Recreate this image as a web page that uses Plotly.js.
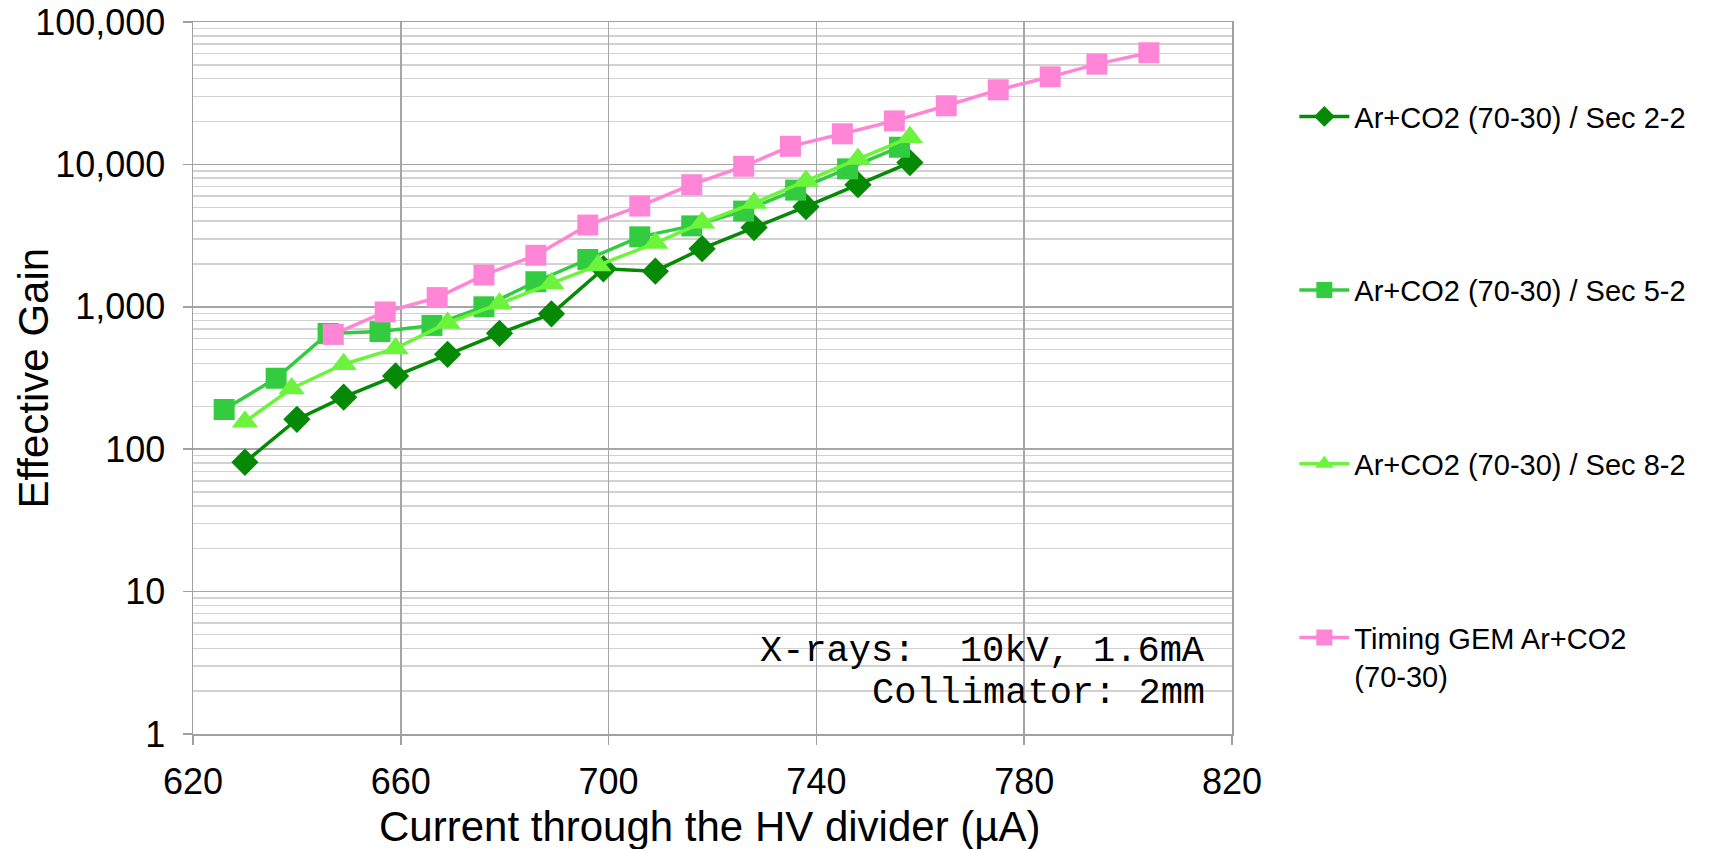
<!DOCTYPE html>
<html>
<head>
<meta charset="utf-8">
<script src="https://cdn.plot.ly/plotly-3.0.1.min.js"></script>
<style>
html,body{margin:0;padding:0;background:#fff;}
#chart{width:1713px;height:849px;}
</style>
</head>
<body>
<div id="chart"></div>
<script>
// Series: Ar+CO2 (70-30) / Sec 2-2
const sec22X = [630, 640, 649, 659, 669, 679, 689, 699, 709, 718, 728, 738, 748, 758];
const sec22Y = [81, 162, 232, 327, 464, 651, 892, 1850, 1780, 2560, 3600, 5050, 7200, 10300];
// Series: Ar+CO2 (70-30) / Sec 5-2
const sec52X = [626, 636, 646, 656, 666, 676, 686, 696, 706, 716, 726, 736, 746, 756];
const sec52Y = [190, 315, 650, 670, 740, 1000, 1500, 2150, 3100, 3700, 4700, 6600, 9300, 13200];
// Series: Ar+CO2 (70-30) / Sec 8-2
const sec82X = [630, 639, 649, 659, 669, 679, 689, 698, 709, 718, 728, 738, 748, 758];
const sec82Y = [156, 267, 395, 510, 770, 1050, 1460, 1950, 2800, 3900, 5350, 7650, 10900, 15500];
// Series: Timing GEM Ar+CO2 (70-30)
const timingX = [647, 657, 667, 676, 686, 696, 706, 716, 726, 735, 745, 755, 765, 775, 785, 794, 804];
const timingY = [640, 920, 1160, 1670, 2300, 3750, 5100, 7200, 9700, 13400, 16400, 20200, 25800, 33400, 41200, 50600, 60800];

const seriesNames = ["Ar+CO2 (70-30) / Sec 2-2", "Ar+CO2 (70-30) / Sec 5-2", "Ar+CO2 (70-30) / Sec 8-2", "Timing GEM Ar+CO2<br>(70-30)"];
const xTitle = "Current through the HV divider (µA)";
const yTitle = "Effective Gain";
const noteLines = ["X-rays:  10kV, 1.6mA", "Collimator: 2mm"];

function mk(x, y, name, color, symbol, size, grp) {
  return {
    x: x, y: y, name: name, type: 'scatter', mode: 'lines+markers',
    legendgroup: grp,
    line: {color: color, width: 3.5},
    marker: {color: color, symbol: symbol, size: size, line: {width: 0}},
    hoverinfo: 'x+y'
  };
}

const data = [
  mk(sec22X, sec22Y, seriesNames[0], '#068a06', 'diamond', 21, 'a'),
  mk(sec52X, sec52Y, seriesNames[1], '#33cc40', 'square', 21, 'b'),
  mk(sec82X, sec82Y, seriesNames[2], '#6cf43c', 'triangle-up', 23, 'c'),
  mk(timingX, timingY, seriesNames[3], '#ff85d6', 'square', 21, 'd')
];

const layout = {
  width: 1713, height: 849,
  margin: {l: 193, r: 481, t: 22, b: 115},
  paper_bgcolor: '#ffffff', plot_bgcolor: '#ffffff',
  showlegend: true,
  legend: {
    x: 1.06, xanchor: 'left', y: 0.903, yanchor: 'top',
    traceorder: 'grouped', tracegroupgap: 133,
    font: {family: 'Liberation Sans, Arial, sans-serif', size: 29, color: '#000'},
    itemwidth: 50, valign: 'top', bgcolor: 'rgba(0,0,0,0)'
  },
  xaxis: {
    range: [620, 820], dtick: 40, tick0: 620,
    showgrid: true, gridcolor: '#a6a6a6', gridwidth: 1.5,
    showline: true, mirror: true, linecolor: '#a0a0a0', linewidth: 1.5,
    ticks: 'outside', ticklen: 9, tickcolor: '#a0a0a0', tickwidth: 1.5,
    ticklabelstandoff: 6,
    tickfont: {family: 'Liberation Sans, Arial, sans-serif', size: 36, color: '#000'},
    zeroline: false
  },
  yaxis: {
    type: 'log', range: [0, 5], dtick: 1, tickformat: ',.0f',
    showgrid: true, gridcolor: '#a6a6a6', gridwidth: 1.5,
    minor: {dtick: 'D1', showgrid: true, gridcolor: '#d2d2d2', gridwidth: 1.5, ticks: ''},
    showline: true, mirror: true, linecolor: '#a0a0a0', linewidth: 1.5,
    ticks: 'outside', ticklen: 9, tickcolor: '#a0a0a0', tickwidth: 1.5,
    ticklabelstandoff: 10,
    tickfont: {family: 'Liberation Sans, Arial, sans-serif', size: 36, color: '#000'},
    zeroline: false
  },
  annotations: [
    {text: xTitle, xref: 'paper', yref: 'paper', x: 0.4967, y: -0.13, xanchor: 'center', yanchor: 'middle',
     showarrow: false, font: {family: 'Liberation Sans, Arial, sans-serif', size: 42, color: '#000'}},
    {text: yTitle, xref: 'paper', yref: 'paper', x: -0.1544, y: 0.5, xanchor: 'center', yanchor: 'middle', textangle: -90,
     showarrow: false, font: {family: 'Liberation Sans, Arial, sans-serif', size: 42, color: '#000'}},
    {text: noteLines[0], xref: 'paper', yref: 'paper', x: 0.9756, y: 0.1168, xanchor: 'right', yanchor: 'middle',
     showarrow: false, font: {family: 'Liberation Mono, Courier New, monospace', size: 37, color: '#000'}},
    {text: noteLines[1], xref: 'paper', yref: 'paper', x: 0.9756, y: 0.0578, xanchor: 'right', yanchor: 'middle',
     showarrow: false, font: {family: 'Liberation Mono, Courier New, monospace', size: 37, color: '#000'}}
  ]
};

Plotly.newPlot('chart', data, layout, {displayModeBar: false, staticPlot: true});
</script>
</body>
</html>
